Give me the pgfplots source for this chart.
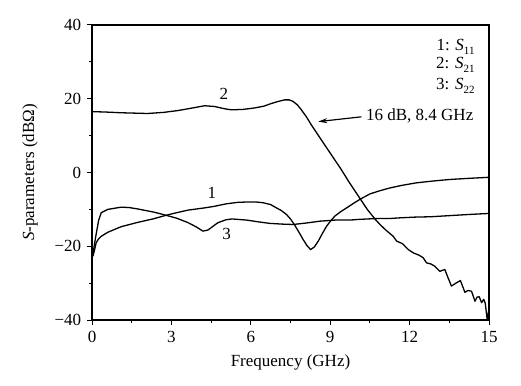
\documentclass[border=0pt]{standalone}
\usepackage{fontspec}
\setmainfont{Liberation Serif}
\usepackage{pgfplots}
\pgfplotsset{compat=1.18}
\usetikzlibrary{arrows.meta}
\newcommand{\sub}[1]{\raisebox{-4bp}{\fontsize{11bp}{11bp}\selectfont #1}}
\begin{document}
\fontsize{17bp}{20bp}\selectfont
\begin{tikzpicture}
\useasboundingbox (0,0) rectangle (521bp,386bp);
\begin{axis}[
  at={(92bp,66bp)}, anchor=south west,
  scale only axis, width=397bp, height=295bp,
  xmin=0, xmax=15, ymin=-40, ymax=40,
  xtick={0,3,6,9,12,15}, xticklabels={0,3,6,9,12,15},
  ytick={-40,-20,0,20,40}, yticklabels={−40,−20,0,20,40},
  minor x tick num=1, minor y tick num=1,
  xtick pos=bottom, ytick pos=left,
  tick align=outside,
  major tick length=5bp, minor tick length=3bp,
  every tick/.style={black, line width=1bp},
  axis line style={line width=1.1bp},
  tick label style={font=\fontsize{17bp}{20bp}\selectfont},
  label style={font=\fontsize{17bp}{20bp}\selectfont},
  xlabel={Frequency (GHz)},
  ylabel={\textit{S}-parameters (dBΩ)},
  x label style={at={(axis description cs:0.5,-0.1424)}, anchor=center},
  y label style={at={(axis description cs:-0.156,0.5)}, anchor=center, rotate=0},
]
% S21 (curve 2)
\addplot[black, line width=1.3bp, line join=round, mark=none] coordinates {
(0.03,16.5) (0.5,16.4) (1.1,16.2) (1.6,16.1) (2.1,16.0) (2.7,16.3) (3.25,16.8)
(3.8,17.5) (4.25,18.1) (4.63,17.9) (5.0,17.3) (5.26,17.0) (5.7,17.1) (6.14,17.5)
(6.5,18.0) (6.77,18.7) (7.05,19.3) (7.28,19.7) (7.45,19.7) (7.59,19.3) (7.75,18.4)
(7.9,17.1) (8.1,15.1) (8.28,13.0) (8.53,10.3) (8.8,7.4) (9.1,4.2) (9.4,1.0)
(9.74,-2.9) (10.12,-7.0) (10.4,-10.0) (10.69,-12.6) (10.88,-14.1) (11.1,-15.6)
(11.38,-17.3) (11.51,-18.6) (11.7,-19.2) (11.76,-19.5) (11.95,-20.9) (12.14,-21.8)
(12.35,-22.4) (12.51,-23.1) (12.64,-24.5) (12.8,-24.8) (12.95,-25.4) (13.14,-26.8)
(13.33,-26.3) (13.45,-28.5) (13.58,-30.8) (13.75,-30.0) (13.92,-29.3) (14.09,-32.5)
(14.2,-32.0) (14.34,-32.2) (14.47,-34.9) (14.55,-33.8) (14.63,-33.7) (14.72,-35.3)
(14.8,-34.4) (14.86,-35.5) (14.93,-39.9) (15,-37)
};
% S11 (curve 1)
\addplot[black, line width=1.3bp, line join=round, mark=none] coordinates {
(0.03,-22.7) (0.08,-21.5) (0.16,-19) (0.25,-18) (0.35,-17.3) (0.6,-16.2) (1.1,-14.7)
(1.74,-13.5) (2.3,-12.6) (2.8,-11.6) (3.2,-10.9) (3.63,-10.2) (4.25,-9.6) (4.6,-9.2)
(5.07,-8.5) (5.5,-8.1) (5.84,-8.0) (6.2,-8.0) (6.47,-8.2) (6.75,-8.7) (6.97,-9.6)
(7.15,-10.3) (7.35,-11.4) (7.5,-12.6) (7.67,-14.4) (7.82,-16.2) (7.98,-18.2)
(8.12,-19.8) (8.26,-20.9) (8.4,-20.2) (8.55,-18.6) (8.7,-16.6) (8.86,-14.6)
(9.02,-13.1) (9.18,-11.8) (9.4,-10.6) (9.62,-9.6) (9.85,-8.5) (10.12,-7.3)
(10.5,-5.8) (10.9,-4.9) (11.25,-4.2) (11.7,-3.5) (12.26,-2.8) (12.9,-2.3)
(13.5,-1.9) (14.2,-1.6) (15,-1.3)
};
% S22 (curve 3)
\addplot[black, line width=1.3bp, line join=round, mark=none] coordinates {
(0.03,-22.7) (0.08,-20) (0.15,-17) (0.25,-13) (0.35,-10.9) (0.6,-10.0) (1.1,-9.4)
(1.4,-9.5) (1.74,-9.9) (2.37,-10.8) (2.8,-11.6) (3.2,-12.4) (3.63,-13.6) (3.95,-14.8)
(4.19,-15.9) (4.38,-15.6) (4.55,-14.7) (4.76,-13.6) (5.07,-12.8) (5.3,-12.6)
(5.84,-12.9) (6.3,-13.4) (6.72,-13.8) (7.2,-14.0) (7.6,-14.1) (8.1,-13.7)
(8.61,-13.2) (9.2,-12.9) (9.74,-12.9) (10.12,-12.7) (10.7,-12.5) (11.2,-12.5)
(11.63,-12.3) (12.2,-12.1) (12.8,-12.0) (13.5,-11.7) (14.2,-11.4) (15,-11.1)
};
\node[inner sep=0] at (axis cs:4.53,-5.4) {1};
\node[inner sep=0] at (axis cs:4.98,21.3) {2};
\node[inner sep=0] at (axis cs:5.09,-16.8) {3};
\node[inner sep=0, anchor=base east] at (axis cs:14.46,33.2) {1: \textit{S}\sub{11}};
\node[inner sep=0, anchor=base east] at (axis cs:14.46,28.2) {2: \textit{S}\sub{21}};
\node[inner sep=0, anchor=base east] at (axis cs:14.46,22.4) {3: \textit{S}\sub{22}};
\draw[line width=1.2bp, -{Stealth[length=9bp,width=5bp]}] (axis cs:10.18,15.1) -- (axis cs:8.55,13.8);
\node[inner sep=0, anchor=west] at (axis cs:10.35,15.3) {16 dB, 8.4 GHz};
\end{axis}
\end{tikzpicture}
\end{document}
